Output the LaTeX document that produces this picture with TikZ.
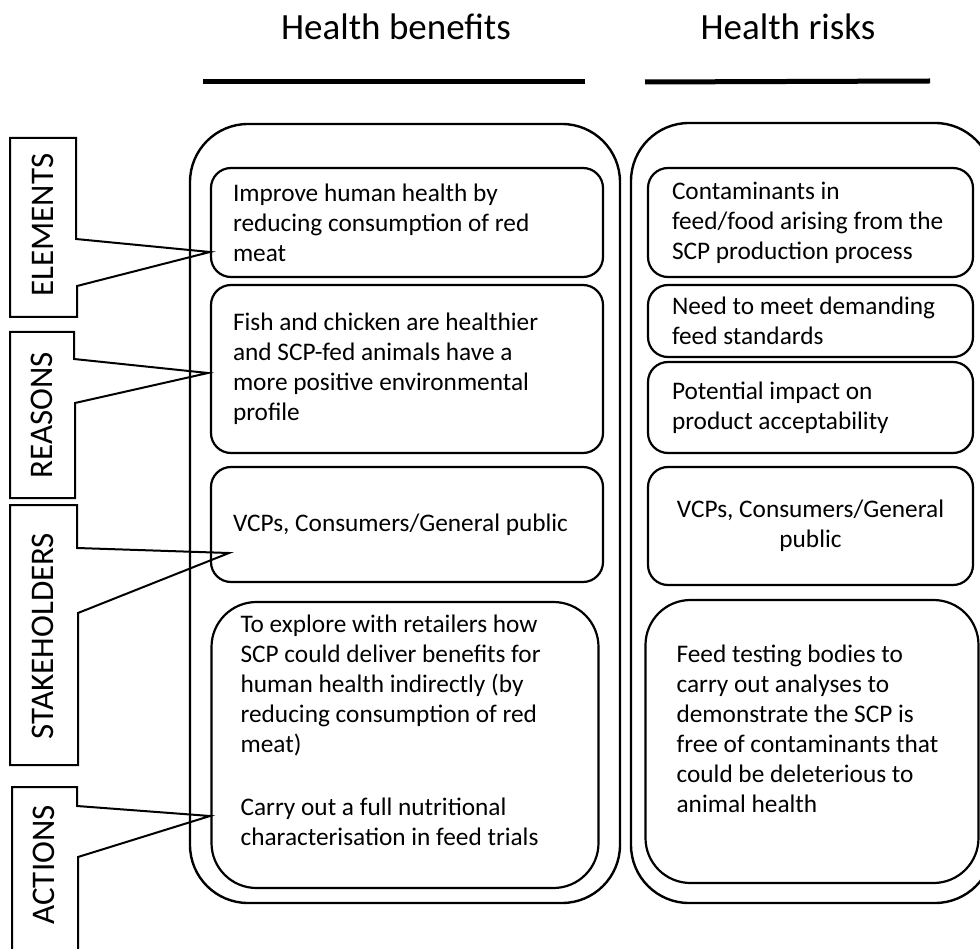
\documentclass[tikz,border=0pt]{standalone}
\usepackage{fontspec}
\setmainfont{Carlito}

\tikzset{
  head/.style={font=\fontsize{37}{44}\selectfont, inner sep=0pt},
  bar/.style={line width=5pt},
  outerbox/.style={draw, line width=2.4pt, rounded corners=58pt},
  itembox/.style={draw, line width=2.2pt, rounded corners=20pt, align=flush left,
    font=\fontsize{25.3}{30}\selectfont, inner ysep=0pt},
  leftitem/.style={itembox, inner xsep=22pt, text width=348pt, minimum width=392pt},
  rightitem/.style={itembox, inner xsep=24pt, text width=277pt, minimum width=325pt},
  bigbox/.style={draw, line width=2.2pt, rounded corners=45pt},
  itemtext/.style={align=left, font=\fontsize{25.3}{30}\selectfont, inner sep=0pt},
  tag/.style={font=\fontsize{33}{38}\selectfont, rotate=90, inner sep=0pt},
  callout/.style={draw, line width=2pt, line join=miter}
}

\begin{document}
\begin{tikzpicture}[x=1pt, y=-1pt]
        \useasboundingbox (0,0) rectangle (980,949);
        % column headings
        \node[head, anchor=base] (benefits) at (396,40) {Health benefits};
        \node[head, anchor=base] (risks) at (788,40) {Health risks};
        \draw[bar] (203,82) -- (585,82);
        \draw[bar] (645,82) -- (930,81);
        % outer frames
        \draw[outerbox] (190,124) rectangle (620,903);
        \draw[outerbox] (631,123) rectangle (993,903);
        % benefits column
        \node[leftitem, minimum height=109pt] (lb1) at (407,222.5) {Improve human health by\\reducing consumption of red\\meat};
        \node[leftitem, minimum height=168pt] (lb2) at (407,369) {Fish and chicken are healthier\\and SCP-fed animals have a\\more positive environmental\\profile};
        \node[leftitem, minimum height=115pt] (lb3) at (407,524.5) {VCPs, Consumers/General public};
        \node[bigbox, minimum width=387pt, minimum height=286pt] (lb4) at (405,745) {};
        \node[itemtext, anchor=west] (lb4text) at ([xshift=30pt, yshift=15pt]lb4.west) {To explore with retailers how\\SCP could deliver benefits for\\human health indirectly (by\\reducing consumption of red\\meat)\\[33pt]Carry out a full nutritional\\characterisation in feed trials};
        % risks column
        \node[rightitem, minimum height=109pt] (rb1) at (810.5,222.5) {Contaminants in\\feed/food arising from the\\SCP production process};
        \node[rightitem, minimum height=72pt] (rb2) at (810.5,321) {Need to meet demanding\\feed standards};
        \node[rightitem, minimum height=91pt] (rb3) at (810.5,407.5) {Potential impact on\\product acceptability};
        \node[rightitem, minimum height=118pt, align=flush center] (rb4) at (810.5,526) {VCPs, Consumers/General\\public};
        \node[bigbox, minimum width=333pt, minimum height=283pt] (rb5) at (812,741.5) {};
        \node[itemtext, anchor=west] (rb5text) at ([xshift=32pt, yshift=13pt]rb5.west) {Feed testing bodies to\\carry out analyses to\\demonstrate the SCP is\\free of contaminants that\\could be deleterious to\\animal health};
        % side tags
        \draw[callout] (10,138) -- (76,138) -- (76,239) -- (210,252) -- (77,286) -- (77,317) -- (10,317) -- cycle;
        \draw[callout] (10,332) -- (74,332) -- (74,359) -- (208,373) -- (75,403) -- (75,498) -- (10,498) -- cycle;
        \draw[callout] (10,505) -- (77,505) -- (77,548) -- (229,553) -- (78,613) -- (78,765) -- (10,765) -- cycle;
        \draw[callout] (12,787) -- (77,787) -- (77,806) -- (210,816) -- (78,857) -- (78,970) -- (12,970) -- cycle;
        \node[tag] (elements) at (43,225) {ELEMENTS};
        \node[tag] (reasons) at (42,415) {REASONS};
        \node[tag] (stakeholders) at (43,636) {STAKEHOLDERS};
        \node[tag] (actions) at (44,865) {ACTIONS};
\end{tikzpicture}
\end{document}
